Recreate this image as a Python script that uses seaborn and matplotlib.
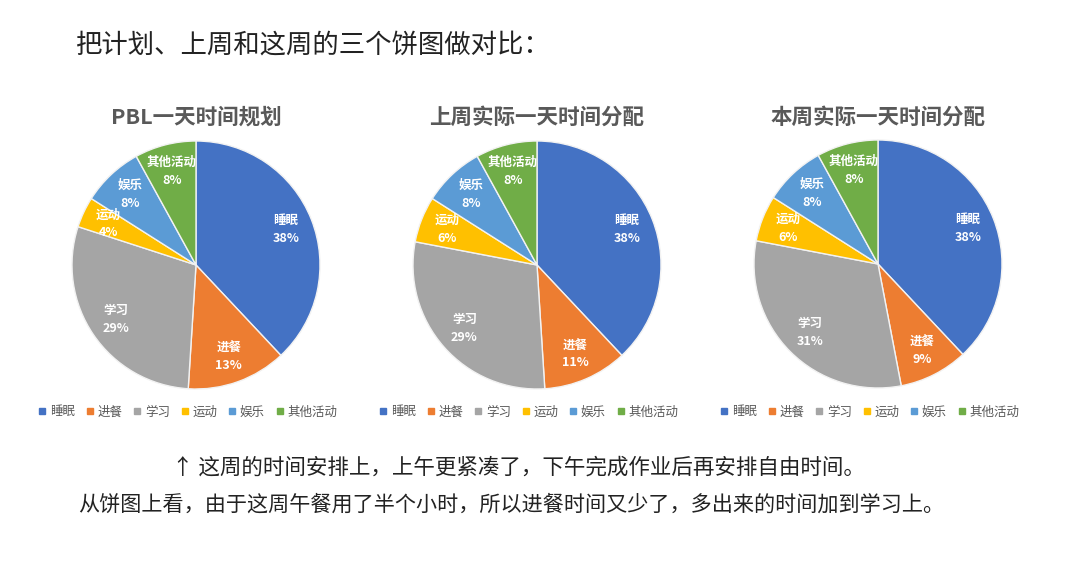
import matplotlib
matplotlib.use("Agg")
import matplotlib.pyplot as plt
import seaborn as sns
from matplotlib.lines import Line2D

# 数据
categories = ["睡眠", "进餐", "学习", "运动", "娱乐", "其他活动"]
plan_pct = [38, 13, 29, 4, 8, 8]
last_week_pct = [38, 11, 29, 6, 8, 8]
this_week_pct = [38, 9, 31, 6, 8, 8]
titles = ["PBL一天时间规划", "上周实际一天时间分配", "本周实际一天时间分配"]
colors = ["#4472C4", "#ED7D31", "#A5A5A5", "#FFC000", "#5B9BD5", "#70AD47"]

header = "把计划、上周和这周的三个饼图做对比："
note_1 = "↑ 这周的时间安排上，上午更紧凑了，下午完成作业后再安排自由时间。"
note_2 = "从饼图上看，由于这周午餐用了半个小时，所以进餐时间又少了，多出来的时间加到学习上。"

sns.set_theme(style = "white")
plt.rcParams["font.family"] = ["Noto Sans CJK SC", "DejaVu Sans"]

W, H = 1080, 567
fig = plt.figure(figsize = (W / 100, H / 100), dpi = 100)
fig.patch.set_facecolor("white")

def pie_axes(cx, cy, r):
    """像素中心和半径 -> 坐标轴"""
    pad = 1.03
    return fig.add_axes([(cx - r * pad) / W, (H - cy - r * pad) / H, 2 * r * pad / W, 2 * r * pad / H])

centers = [(196, 265), (537, 265), (878, 264)]
radius = 124
all_data = [plan_pct, last_week_pct, this_week_pct]

for (cx, cy), data, title in zip(centers, all_data, titles):
    ax = pie_axes(cx, cy, radius)
    labels = [f"{c}\n{v}%" for c, v in zip(categories, data)]
    wedges, texts = ax.pie(data, labels = labels, colors = colors, startangle = 90,
                           counterclock = False, labeldistance = 0.78,
                           wedgeprops = {"edgecolor": "#f2f2f2", "linewidth": 1.0})
    for t in texts:
        t.set_ha("center")
        t.set_va("center")
        t.set_color("white")
        t.set_fontsize(9)
        t.set_fontweight("bold")
        t.set_linespacing(1.5)
    ax.set_xlim(-1.03, 1.03)
    ax.set_ylim(-1.03, 1.03)
    ax.set_aspect("equal")
    ax.axis("off")

    fig.text(cx / W, 1 - 117 / H, title, ha = "center", va = "center",
             fontsize = 15.5, fontweight = "bold", color = "#595959")

    handles = [Line2D([0], [0], marker = "s", linestyle = "", markersize = 5,
                      markerfacecolor = c, markeredgecolor = c) for c in colors]
    fig.legend(handles, categories, loc = "center", bbox_to_anchor = ((cx - 8) / W, 1 - 412 / H),
               ncol = 6, frameon = False, fontsize = 9, handlelength = 0.6,
               handletextpad = 0.3, columnspacing = 0.9, labelcolor = "#595959")

fig.text(75 / W, 1 - 45 / H, header, ha = "left", va = "center", fontsize = 19, color = "#222222")
fig.text(172 / W, 1 - 468 / H, note_1, ha = "left", va = "center", fontsize = 15.5, color = "#222222")
fig.text(78 / W, 1 - 505 / H, note_2, ha = "left", va = "center", fontsize = 15.2, color = "#222222")

plt.savefig("out.png", dpi = 100)
plt.close()
